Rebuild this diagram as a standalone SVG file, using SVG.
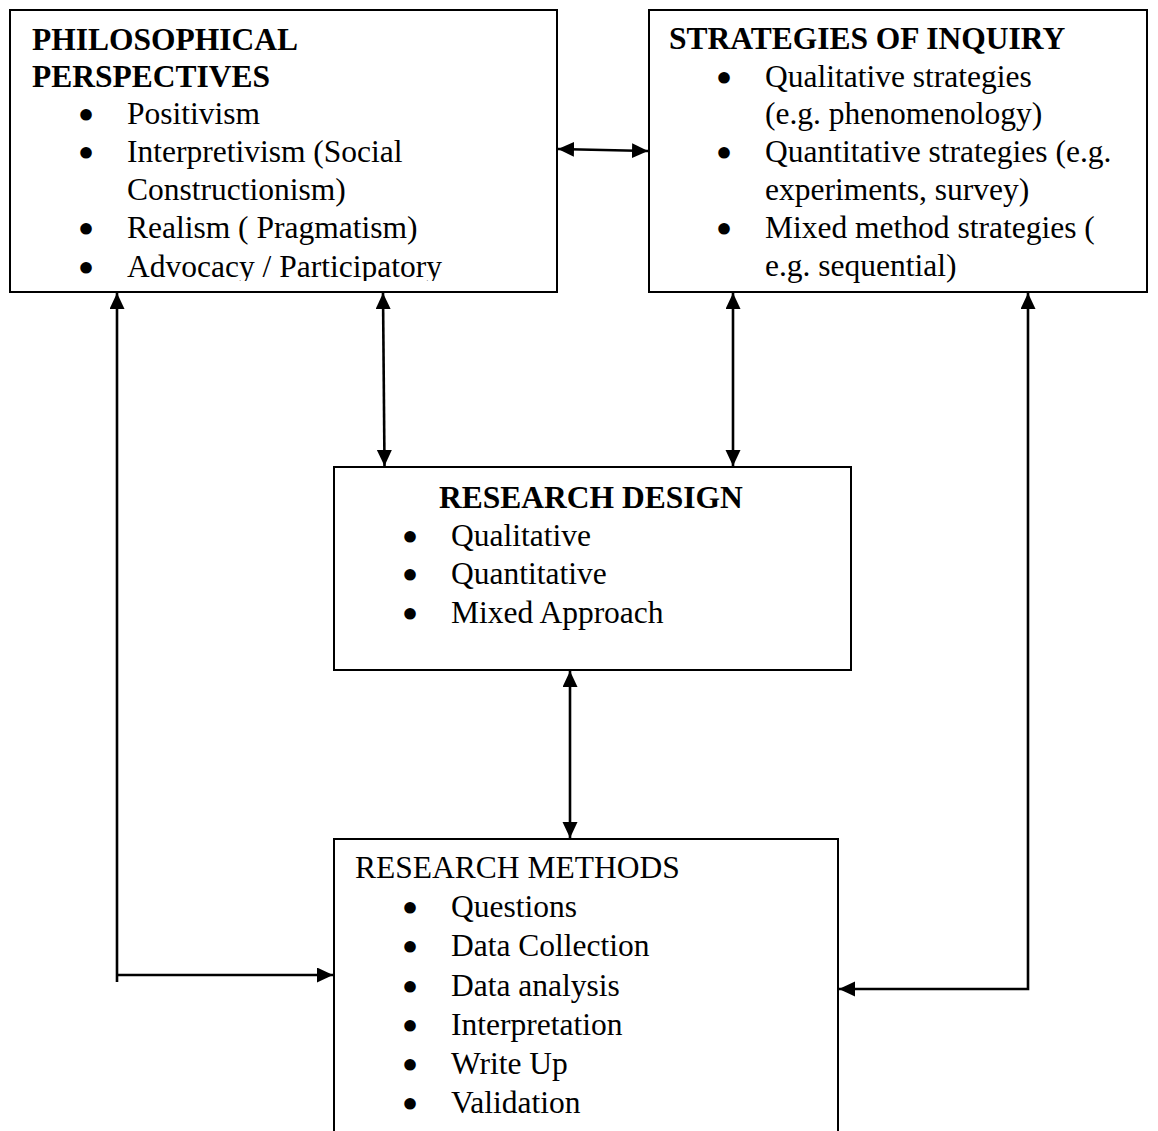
<svg xmlns="http://www.w3.org/2000/svg" width="1158" height="1131" viewBox="0 0 1158 1131">
  <style>
    .box { fill: #fff; stroke: #000; stroke-width: 2; }
    .t { font-family: "Liberation Serif", "Times New Roman", serif; font-size: 31.5px; fill: #000; }
    .h { font-weight: bold; }
    .b { text-anchor: middle; stroke: #000; stroke-width: 4; stroke-linejoin: round; }
    .c { fill: none; stroke: #000; stroke-width: 2.6; }
  </style>
  <defs>
    <marker id="arrow" markerUnits="userSpaceOnUse" markerWidth="17" markerHeight="16" refX="16" refY="7.5" orient="auto-start-reverse">
      <path d="M0,0 L16,7.5 L0,15 z" fill="#000"/>
    </marker>
    <clipPath id="clip-pp">
      <rect x="10" y="10" width="547" height="271"/>
    </clipPath>
  </defs>
  <rect width="1158" height="1131" fill="#fff"/>

  <g id="philosophical-perspectives">
    <rect class="box" x="10" y="10" width="547" height="282"/>
    <text class="t h" x="32" y="50">PHILOSOPHICAL</text>
    <text class="t h" x="32" y="87">PERSPECTIVES</text>
    <text class="t" y="124"><tspan class="b" x="86" dy="2">•</tspan><tspan x="127" dy="-2">Positivism</tspan></text>
    <text class="t" y="162"><tspan class="b" x="86" dy="2">•</tspan><tspan x="127" dy="-2">Interpretivism (Social</tspan></text>
    <text class="t" x="127" y="200">Constructionism)</text>
    <text class="t" y="238"><tspan class="b" x="86" dy="2">•</tspan><tspan x="127" dy="-2">Realism ( Pragmatism)</tspan></text>
    <text class="t" y="277" clip-path="url(#clip-pp)"><tspan class="b" x="86" dy="2">•</tspan><tspan x="127" dy="-2">Advocacy / Participatory</tspan></text>
  </g>

  <g id="strategies-of-inquiry">
    <rect class="box" x="649" y="10" width="498" height="282"/>
    <text class="t h" x="669" y="49">STRATEGIES OF INQUIRY</text>
    <text class="t" y="87"><tspan class="b" x="724" dy="2">•</tspan><tspan x="765" dy="-2">Qualitative strategies</tspan></text>
    <text class="t" x="765" y="124">(e.g. phenomenology)</text>
    <text class="t" y="162"><tspan class="b" x="724" dy="2">•</tspan><tspan x="765" dy="-2">Quantitative strategies (e.g.</tspan></text>
    <text class="t" x="765" y="200">experiments, survey)</text>
    <text class="t" y="238"><tspan class="b" x="724" dy="2">•</tspan><tspan x="765" dy="-2">Mixed method strategies  (</tspan></text>
    <text class="t" x="765" y="276">e.g. sequential)</text>
  </g>

  <g id="research-design">
    <rect class="box" x="334" y="467" width="517" height="203"/>
    <text class="t h" x="439" y="508">RESEARCH DESIGN</text>
    <text class="t" y="546"><tspan class="b" x="410" dy="2">•</tspan><tspan x="451" dy="-2">Qualitative</tspan></text>
    <text class="t" y="584"><tspan class="b" x="410" dy="2">•</tspan><tspan x="451" dy="-2">Quantitative</tspan></text>
    <text class="t" y="623"><tspan class="b" x="410" dy="2">•</tspan><tspan x="451" dy="-2">Mixed Approach</tspan></text>
  </g>

  <g id="research-methods">
    <path class="box" d="M334,1140 V839 H838 V1140"/>
    <text class="t" x="355" y="878">RESEARCH METHODS</text>
    <text class="t" y="917"><tspan class="b" x="410" dy="2">•</tspan><tspan x="451" dy="-2">Questions</tspan></text>
    <text class="t" y="956"><tspan class="b" x="410" dy="2">•</tspan><tspan x="451" dy="-2">Data Collection</tspan></text>
    <text class="t" y="996"><tspan class="b" x="410" dy="2">•</tspan><tspan x="451" dy="-2">Data analysis</tspan></text>
    <text class="t" y="1035"><tspan class="b" x="410" dy="2">•</tspan><tspan x="451" dy="-2">Interpretation</tspan></text>
    <text class="t" y="1074"><tspan class="b" x="410" dy="2">•</tspan><tspan x="451" dy="-2">Write Up</tspan></text>
    <text class="t" y="1113"><tspan class="b" x="410" dy="2">•</tspan><tspan x="451" dy="-2">Validation</tspan></text>
  </g>

  <g id="connectors">
    <!-- perspectives <-> strategies -->
    <line class="c" x1="558" y1="149" x2="648" y2="151" marker-start="url(#arrow)" marker-end="url(#arrow)"/>
    <!-- perspectives <-> design -->
    <line class="c" x1="383" y1="293" x2="384.5" y2="466" marker-start="url(#arrow)" marker-end="url(#arrow)"/>
    <!-- strategies <-> design -->
    <line class="c" x1="733" y1="293" x2="733" y2="466" marker-start="url(#arrow)" marker-end="url(#arrow)"/>
    <!-- design <-> methods -->
    <line class="c" x1="570" y1="671" x2="570" y2="838" marker-start="url(#arrow)" marker-end="url(#arrow)"/>
    <!-- methods -> perspectives feedback loop -->
    <line class="c" x1="117" y1="982" x2="117" y2="293" marker-end="url(#arrow)"/>
    <line class="c" x1="117" y1="975" x2="333" y2="975" marker-end="url(#arrow)"/>
    <!-- strategies -> methods loop -->
    <polyline class="c" points="1028,293 1028,989 839,989" marker-start="url(#arrow)" marker-end="url(#arrow)"/>
  </g>
</svg>
